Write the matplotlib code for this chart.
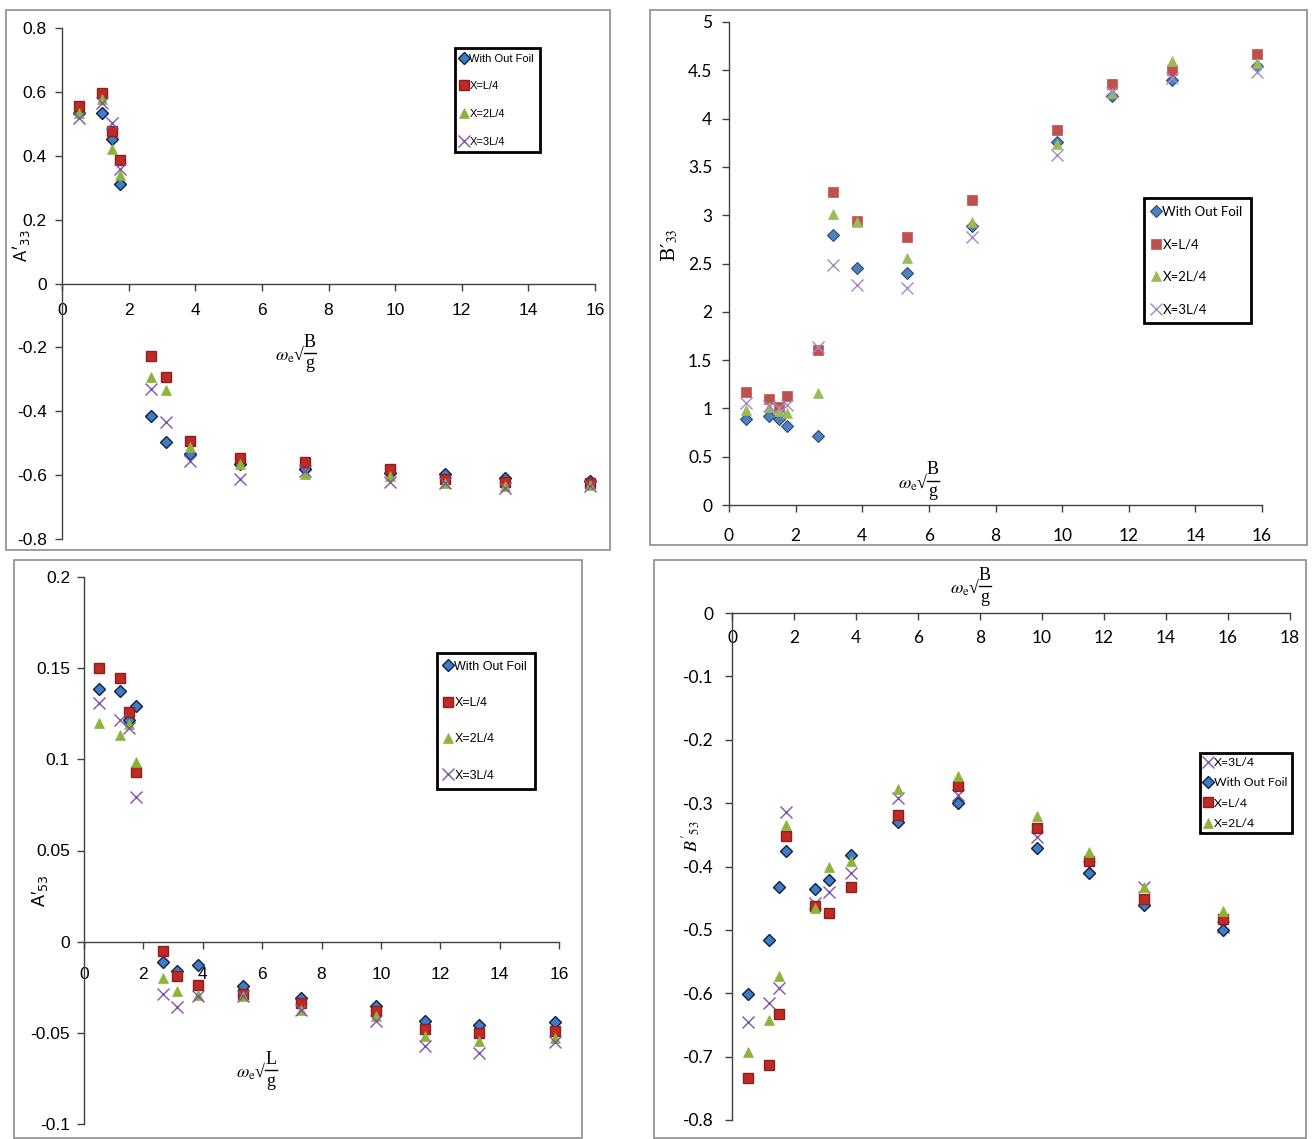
import numpy as np
import matplotlib
matplotlib.use('Agg')
import matplotlib.pyplot as plt
from matplotlib.patches import Rectangle
from matplotlib.lines import Line2D

W, H = 1314, 1139

# non-dimensional frequency, shared by all four plots
freq = [0.5, 1.2, 1.5, 1.75, 2.67, 3.12, 3.85, 5.35, 7.3, 9.85, 11.5, 13.3, 15.85]

# added mass, heave
a33_noFoil = [0.535, 0.535, 0.454, 0.31, -0.414, -0.495, -0.535, -0.566, -0.581, -0.592, -0.597, -0.608, -0.618]
a33_L4 = [0.555, 0.595, 0.477, 0.386, -0.226, -0.292, -0.493, -0.547, -0.558, -0.581, -0.613, -0.623, -0.626]
a33_2L4 = [0.533, 0.579, 0.422, 0.339, -0.292, -0.334, -0.513, -0.566, -0.597, -0.602, -0.626, -0.634, -0.63]
a33_3L4 = [0.517, 0.564, 0.503, 0.36, -0.33, -0.435, -0.555, -0.611, -0.587, -0.623, -0.626, -0.639, -0.634]

# damping, heave
b33_noFoil = [0.887, 0.921, 0.887, 0.818, 0.714, 2.795, 2.45, 2.398, 2.888, 3.761, 4.234, 4.4, 4.548]
b33_L4 = [1.173, 1.097, 1.011, 1.128, 1.605, 3.243, 2.943, 2.778, 3.157, 3.882, 4.358, 4.503, 4.666]
b33_2L4 = [0.983, 1.011, 0.976, 0.949, 1.163, 3.009, 2.933, 2.554, 2.933, 3.737, 4.268, 4.6, 4.572]
b33_3L4 = [1.052, 1.025, 1.0, 1.035, 1.639, 2.484, 2.277, 2.243, 2.778, 3.623, 4.28, 4.417, 4.486]

# added mass, pitch-heave coupling
a53_noFoil = [0.1385, 0.1375, 0.1216, 0.1295, -0.0113, -0.0163, -0.0126, -0.0245, -0.0309, -0.0354, -0.0437, -0.0455, -0.0442]
a53_L4 = [0.15, 0.1445, 0.1262, 0.093, -0.0053, -0.019, -0.0236, -0.0285, -0.0336, -0.0382, -0.0479, -0.05, -0.0488]
a53_2L4 = [0.1198, 0.1134, 0.1195, 0.0983, -0.0199, -0.0272, -0.029, -0.0296, -0.0373, -0.0409, -0.0519, -0.0546, -0.0528]
a53_3L4 = [0.1308, 0.1216, 0.1171, 0.0793, -0.0285, -0.0358, -0.03, -0.0296, -0.0376, -0.0437, -0.057, -0.061, -0.0552]

# damping, pitch-heave coupling
b53_noFoil = [-0.601, -0.516, -0.432, -0.3755, -0.436, -0.421, -0.382, -0.329, -0.3, -0.371, -0.411, -0.461, -0.5]
b53_L4 = [-0.733, -0.714, -0.633, -0.352, -0.463, -0.473, -0.432, -0.318, -0.273, -0.34, -0.391, -0.452, -0.483]
b53_2L4 = [-0.692, -0.642, -0.573, -0.3345, -0.466, -0.401, -0.392, -0.278, -0.257, -0.321, -0.377, -0.433, -0.471]
b53_3L4 = [-0.646, -0.615, -0.592, -0.3145, -0.458, -0.441, -0.411, -0.292, -0.287, -0.353, -0.40, -0.432, -0.495]

labels = ['With Out Foil', 'X=L/4', 'X=2L/4', 'X=3L/4']

narrow = ['Liberation Sans', 'DejaVu Sans']
wide = ['Lato', 'DejaVu Sans']
serif = ['Liberation Serif', 'DejaVu Serif']

fig = plt.figure(figsize=(W / 100, H / 100), dpi=100)


def px_axes(x0, y0, x1, y1):
    return fig.add_axes([x0 / W, 1 - y1 / H, (x1 - x0) / W, (y1 - y0) / H])


def frame(x0, y0, x1, y1):
    fig.patches.append(Rectangle((x0 / W, 1 - y1 / H), (x1 - x0) / W, (y1 - y0) / H,
                                 transform=fig.transFigure, fill=False,
                                 edgecolor='#8c8c8c', linewidth=1.2))


def styles(dark):
    if dark:
        return [dict(marker='D', ms=5.8, mfc='#3d7cc9', mec='#15213a', mew=1.0),
                dict(marker='s', ms=7.0, mfc='#c02a26', mec='#8e1f1f', mew=1.0),
                dict(marker='^', ms=7.5, mfc='#8db43a', mec='#8db43a', mew=0.5),
                dict(marker='x', ms=8.0, mfc='none', mec='#7d55aa', mew=1.0)]
    return [dict(marker='D', ms=5.8, mfc='#4f81bd', mec='#2c4d75', mew=0.8),
            dict(marker='s', ms=7.0, mfc='#c0504d', mec='#c0504d', mew=0.5),
            dict(marker='^', ms=7.5, mfc='#9bbb59', mec='#9bbb59', mew=0.5),
            dict(marker='x', ms=8.0, mfc='none', mec='#a08cc4', mew=1.0)]


def setup(ax, xlim, ylim, xticks, yticks, font, xpad, ypad, xaxis_at=0):
    ax.set_xlim(*xlim)
    ax.set_ylim(*ylim)
    for s in ['top', 'right']:
        ax.spines[s].set_visible(False)
    ax.spines['bottom'].set_position(('data', xaxis_at))
    for s in ['left', 'bottom']:
        ax.spines[s].set_color('#404040')
        ax.spines[s].set_linewidth(1.0)
    ax.set_xticks(xticks)
    ax.set_yticks(yticks)
    ax.set_yticklabels(['0' if v == 0 else f'{v:g}' for v in yticks])
    ax.tick_params(axis='both', direction='out', length=5, width=1, color='#404040',
                   labelsize=12.5)
    ax.tick_params(axis='x', pad=xpad)
    ax.tick_params(axis='y', pad=ypad)
    for t in ax.get_xticklabels() + ax.get_yticklabels():
        t.set_family(font)
    ax.patch.set_alpha(0)


def legend(ax, handles, x, y, font, size, spacing, pad=0.6):
    leg = ax.legend(handles=handles, loc='upper left', bbox_to_anchor=(x / W, 1 - y / H),
                    bbox_transform=fig.transFigure, fancybox=False, edgecolor='black',
                    framealpha=1, handlelength=0.6, handletextpad=0.2,
                    labelspacing=spacing, borderpad=pad, borderaxespad=0,
                    prop={'family': font, 'size': size})
    leg.get_frame().set_linewidth(2.0)


def xlabel_text(xc, yc, top):
    # omega_e, root sign, then the ratio stacked by hand so the letters stay full size
    fig.text((xc - 4) / W, 1 - (yc + 1) / H, r'$\omega_{\rm e}$' + '\u221a', ha='right',
             va='center', fontsize=13, family=serif, math_fontfamily='stix')
    fig.text(xc / W, 1 - (yc - 11) / H, top, ha='center', va='center', fontsize=13,
             family=serif)
    fig.text(xc / W, 1 - (yc + 11) / H, 'g', ha='center', va='center', fontsize=13,
             family=serif)
    fig.lines.append(Line2D([(xc - 6) / W, (xc + 6) / W], [1 - yc / H, 1 - yc / H],
                            transform=fig.transFigure, color='black', lw=1.0))


#%% A'33
frame(6, 10, 610, 550)
ax1 = px_axes(62, 28, 595, 539)
st = styles(True)
h1 = []
for ys, s, lab in zip([a33_noFoil, a33_L4, a33_2L4, a33_3L4], st, labels):
    h1 += ax1.plot(freq, ys, ls='none', label=lab, clip_on=False, **s)
setup(ax1, (0, 16), (-0.8, 0.8), np.arange(0, 17, 2), np.round(np.arange(-0.8, 0.81, 0.2), 1),
      narrow, 9, 6)
legend(ax1, h1, 455, 48, narrow, 8, 1.6, pad=0.5)
fig.text(21 / W, 1 - 246 / H, "A\u2032$_{33}$", rotation=90, ha='center', va='center',
         fontsize=12, family=wide)
xlabel_text(310, 353, 'B')

#%% B'33
frame(650, 10, 1307, 545)
ax2 = px_axes(729, 22, 1262, 505)
st = styles(False)
h2 = []
for ys, s, lab in zip([b33_noFoil, b33_L4, b33_2L4, b33_3L4], st, labels):
    h2 += ax2.plot(freq, ys, ls='none', label=lab, clip_on=False, **s)
setup(ax2, (0, 16), (0, 5), np.arange(0, 17, 2), np.arange(0, 5.01, 0.5),
      wide, 11.5, 7)
legend(ax2, h2, 1144, 198, wide, 9.5, 1.55)
fig.text(670 / W, 1 - 245 / H, "B\u2032$_{33}$", rotation=90, ha='center', va='center',
         fontsize=14, family='DejaVu Serif', math_fontfamily='stix')
xlabel_text(933, 481, 'B')

#%% A'53
frame(14, 560, 582, 1138)
ax3 = px_axes(84, 577, 559, 1124)
st = styles(True)
h3 = []
for ys, s, lab in zip([a53_noFoil, a53_L4, a53_2L4, a53_3L4], st, labels):
    h3 += ax3.plot(freq, ys, ls='none', label=lab, clip_on=False, **s)
setup(ax3, (0, 16), (-0.1, 0.2), np.arange(0, 17, 2), np.round(np.arange(-0.1, 0.201, 0.05), 2),
      narrow, 13.5, 5)
legend(ax3, h3, 437, 653, narrow, 9, 1.95)
fig.text(40 / W, 1 - 891 / H, "A\u2032$_{53}$", rotation=90, ha='center', va='center',
         fontsize=13, family=narrow)
xlabel_text(271, 1070, 'L')

#%% B'53
frame(654, 560, 1306, 1138)
ax4 = px_axes(732, 613, 1290, 1120)
st = styles(True)
order = [3, 0, 1, 2]
series = [b53_noFoil, b53_L4, b53_2L4, b53_3L4]
h4 = []
for i in order:
    h4 += ax4.plot(freq, series[i], ls='none', label=labels[i], clip_on=False, **st[i])
setup(ax4, (0, 18), (-0.8, 0), np.arange(0, 19, 2), np.round(np.arange(-0.8, 0.01, 0.1), 1),
      wide, 7.2, 8, xaxis_at=0)
legend(ax4, h4, 1200, 753, wide, 8.8, 0.75, pad=0.35)
fig.text(692 / W, 1 - 836 / H, "$B'_{53}$", rotation=90, ha='center', va='center',
         fontsize=13, math_fontfamily='stix')
xlabel_text(985, 586, 'B')

fig.savefig('out.png', dpi=100)
